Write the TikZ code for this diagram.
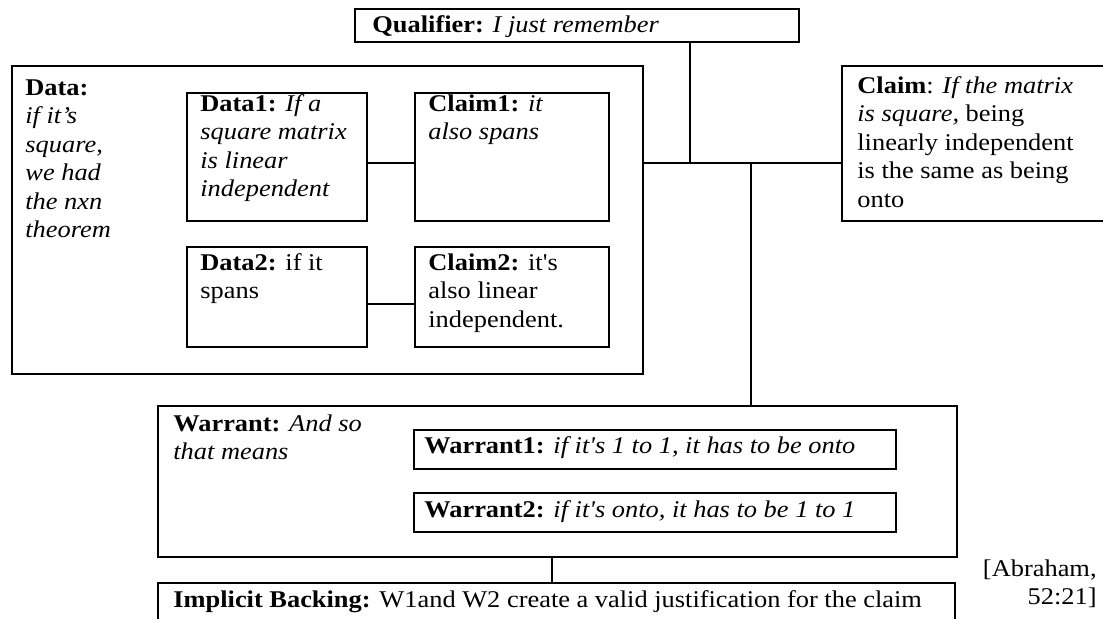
\documentclass[tikz,border=0pt]{standalone}
\usepackage{fontspec}
\newfontfamily\tnr{Liberation Serif}[FakeStretch=1.1]
\usetikzlibrary{fit}
\tikzset{
  box/.style={draw, line width=1pt, inner sep=0pt, rectangle},
  txt/.style={font=\tnr\fontsize{12}{14.2}\selectfont, inner sep=0pt, align=left, anchor=north west},
  link/.style={line width=1pt},
}
% fixed first-line height, so a node's top sits 10pt above its first baseline
\newcommand\fl{\rule{0pt}{10pt}}

\begin{document}
\begin{tikzpicture}[x=0.5pt, y=-0.5pt]
\useasboundingbox (0,0) rectangle (1103,618);
\fill[white] (0,0) rectangle (1103,618);
\clip (0,0) rectangle (1103,618);

% boxes
\node[box, fit={(355,9) (799,42)}] (qual) {};
\node[box, fit={(12,66) (643,374)}] (data) {};
\node[box, fit={(187,93) (367,221)}] (d1) {};
\node[box, fit={(415,93) (609,221)}] (c1) {};
\node[box, fit={(187,247) (367,347)}] (d2) {};
\node[box, fit={(415,247) (609,347)}] (c2) {};
\node[box, fit={(842,66) (1112,221)}] (claim) {};
\node[box, fit={(158,406) (957,557)}] (warrant) {};
\node[box, fit={(414,430) (896,469)}] (w1) {};
\node[box, fit={(414,493) (896,532)}] (w2) {};
\node[box, fit={(158,583) (955,640)}] (backing) {};

% texts
\node[txt] (qualtext) at (372,12) {\fl\textbf{Qualifier:} \textit{I just remember}};
\node[txt] (datatext) at (25,75) {\fl\textbf{Data:}\\\textit{if it’s}\\\textit{square,}\\\textit{we had}\\\textit{the nxn}\\\textit{theorem}};
\node[txt] (d1text) at (200,91) {\fl\textbf{Data1:} \textit{If a}\\\textit{square matrix}\\\textit{is linear}\\\textit{independent}};
\node[txt] (c1text) at (428,91) {\fl\textbf{Claim1:} \textit{it}\\\textit{also spans}};
\node[txt] (d2text) at (200,250) {\fl\textbf{Data2:} if it\\spans};
\node[txt] (c2text) at (428,250) {\fl\textbf{Claim2:} it's\\also linear\\independent.};
\node[txt] (claimtext) at (857,73) {\fl\textbf{Claim}: \textit{If the matrix}\\\textit{is square,} being\\linearly independent\\is the same as being\\onto};
\node[txt] (warranttext) at (173,411) {\fl\textbf{Warrant:} \textit{And so}\\\textit{that means}};
\node[txt] (w1text) at (424,433) {\fl\textbf{Warrant1:} \textit{if it's 1 to 1, it has to be onto}};
\node[txt] (w2text) at (424,497) {\fl\textbf{Warrant2:} \textit{if it's onto, it has to be 1 to 1}};
\node[txt] (backingtext) at (173,587) {\fl\textbf{Implicit Backing:} W1and W2 create a valid justification for the claim};
\node[txt, anchor=north east, align=right] (cite) at (1097,556) {\fl[Abraham,\\52:21]};

% connectors
\coordinate (hub) at (690,163);
\coordinate (wjoin) at (751,163);
\coordinate (row2) at (391,304);
\coordinate (bjoin) at (552,570);
\draw[link] (qual.south -| hub) -- (hub);
\draw[link] (data.east |- hub) -- (claim.west |- hub);
\draw[link] (wjoin) -- (warrant.north -| wjoin);
\draw[link] (d1.east |- hub) -- (c1.west |- hub);
\draw[link] (d2.east |- row2) -- (c2.west |- row2);
\draw[link] (warrant.south -| bjoin) -- (backing.north -| bjoin);
\end{tikzpicture}
\end{document}
